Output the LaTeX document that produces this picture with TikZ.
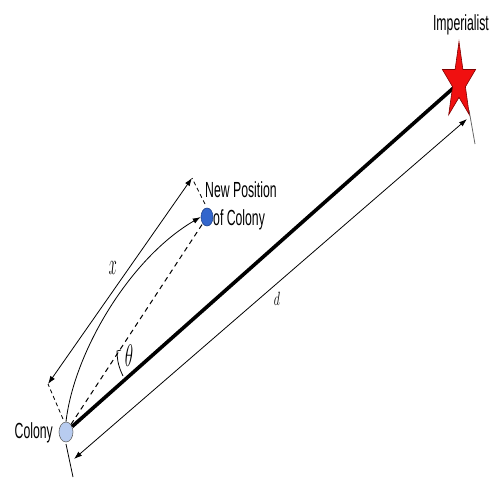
\documentclass[tikz,border=0pt]{standalone}
\usepackage{fontspec}
\setmainfont{Liberation Sans}[FakeStretch=0.7]
\usetikzlibrary{arrows.meta,shapes.geometric}
\definecolor{colfill}{RGB}{184,204,240}
\definecolor{npfill}{RGB}{51,102,204}
\definecolor{starred}{RGB}{240,16,16}
\newcommand{\talltext}[1]{\scalebox{1}[1.25]{#1}}
\begin{document}
\begin{tikzpicture}[x=1pt,y=-1pt,
  lbl/.style={font=\fontsize{17.5}{20}\selectfont, inner sep=0pt},
  dimline/.style={line width=0.8pt, {Latex[length=8pt,width=5.5pt]}-{Latex[length=8pt,width=5.5pt]}},
  extdash/.style={line width=0.8pt, dash pattern=on 4pt off 3pt},
  extline/.style={line width=0.8pt},
  dot/.style={ellipse, inner sep=0pt, line width=0.6pt}]
\useasboundingbox (0,0) rectangle (491,480);
% main points
\coordinate (imp) at (459,83);
\node[dot, draw=black!60, fill=colfill, minimum width=14pt, minimum height=20pt] (col) at (66,432) {};
\node[dot, draw=npfill!70!black, fill=npfill, minimum width=12pt, minimum height=18pt] (np) at (207,217) {};
% thick line colony -> imperialist
\draw[line width=3.6pt] (col) -- (imp);
% dashed line colony -> new position
\draw[line width=1pt, dash pattern=on 5pt off 4pt] (col) -- (np);
% curved arrow
\draw[line width=0.8pt, -{Latex[length=8pt,width=5.5pt]}] (col.north) .. controls (74,352) and (130,258) .. (np.west);
% x dimension
\coordinate (xa) at (48,384);
\coordinate (xb) at (192,178);
\coordinate (xe1) at (63,419);
\coordinate (xe2) at (205,204);
\draw[extdash] (xe1) -- (xa);
\draw[extdash] (xe2) -- (xb);
\draw[dimline] (xa) -- (xb);
\node[inner sep=0pt] (xl) at (113,268) {\scalebox{1}[2.1]{\fontsize{14}{16}\selectfont$x$}};
% d dimension
\coordinate (da) at (74,459);
\coordinate (db) at (467,119);
\coordinate (de1) at (66,444);
\coordinate (de2) at (73,477);
\coordinate (de3) at (469,110);
\coordinate (de4) at (475,144);
\draw[extline] (de1) -- (de2);
\draw[extline, black!60] (de3) -- (de4);
\draw[dimline] (da) -- (db);
\node[inner sep=0pt] (dl) at (277,299) {\scalebox{1}[1.6]{\fontsize{13}{15}\selectfont$d$}};
% theta arc
\coordinate (th1) at (123,376);
\coordinate (th2) at (117,351);
\coordinate (th3) at (121,350);
\draw[line width=0.8pt] (th1) to[bend left=12] (th2) -- (th3);
\node[inner sep=0pt] (thl) at (129,356) {\scalebox{1}[1.8]{\fontsize{16}{18}\selectfont$\theta$}};
% star
\draw[fill=starred, draw=black!50!red, line width=0.6pt]
  (459,41.6) -- (462.9,69.5) -- (475.6,69.5) -- (465.4,86.8) -- (469.3,114.7)
  -- (459,97.4) -- (448.7,114.7) -- (452.6,86.8) -- (442.4,69.5) -- (455.1,69.5) -- cycle;
% labels
\node[lbl, anchor=east] (collbl) at (53,433) {\talltext{Colony}};
\node[lbl, anchor=south west] (nplbl1) at (205,198) {\talltext{New Position}};
\node[lbl, anchor=south west] (nplbl2) at (213,230) {\talltext{of Colony}};
\node[lbl] (implbl) at (461,25) {\talltext{Imperialist}};
\end{tikzpicture}
\end{document}
